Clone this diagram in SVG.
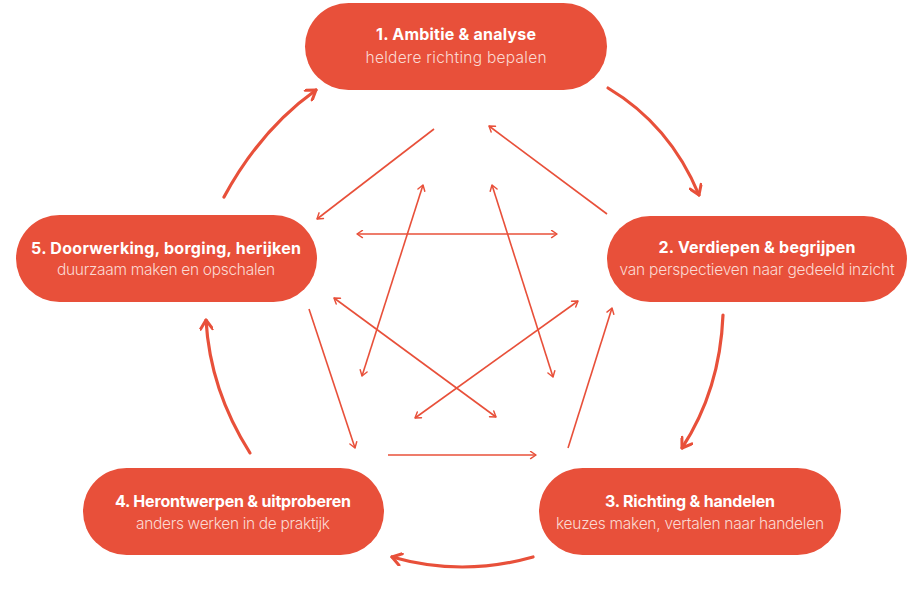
<svg xmlns="http://www.w3.org/2000/svg" width="920" height="591" viewBox="0 0 920 591">
<defs>
<style>
.node rect{fill:#E8503A;}
.t{font-family:Inter,"Noto Sans","Liberation Sans",sans-serif;font-size:16px;font-weight:700;fill:#ffffff;text-anchor:middle;}
.s{font-family:Inter,"Noto Sans","Liberation Sans",sans-serif;font-size:15.5px;font-weight:300;fill:#fbd9d2;text-anchor:middle;}
.thick{fill:none;stroke:#E8503A;stroke-width:3.2;stroke-linecap:round;}
.thin{fill:none;stroke:#E8503A;stroke-width:1.6;}
</style>
<marker id="big" viewBox="0 0 14 14" refX="12" refY="7" markerWidth="14" markerHeight="14" markerUnits="userSpaceOnUse" orient="auto-start-reverse">
<path d="M3,1 L12,7 L3,13" fill="none" stroke="#E8503A" stroke-width="3" stroke-linecap="round" stroke-linejoin="round"/>
</marker>
<marker id="sm" viewBox="0 0 10 10" refX="9" refY="5" markerWidth="9" markerHeight="9" markerUnits="userSpaceOnUse" orient="auto-start-reverse">
<path d="M3,1 L9,5 L3,9" fill="none" stroke="#E8503A" stroke-width="1.6" stroke-linecap="round" stroke-linejoin="round"/>
</marker>
</defs>
<rect width="920" height="591" fill="#ffffff"/>
<g id="connectors">
<path class="thick" d="M608,88 Q670,125 699,195" marker-end="url(#big)"/>
<path class="thick" d="M723,315 Q720,390 682,448" marker-end="url(#big)"/>
<path class="thick" d="M533,557 Q462,577 392,557" marker-end="url(#big)"/>
<path class="thick" d="M250,453 Q210,390 206,320" marker-end="url(#big)"/>
<path class="thick" d="M224,197 Q260,130 316,90" marker-end="url(#big)"/>
<line class="thin" x1="434" y1="129" x2="317" y2="219" marker-end="url(#sm)"/>
<line class="thin" x1="607" y1="214" x2="489" y2="126" marker-end="url(#sm)"/>
<line class="thin" x1="357" y1="234" x2="557" y2="234" marker-start="url(#sm)" marker-end="url(#sm)"/>
<line class="thin" x1="423" y1="185" x2="362" y2="376" marker-start="url(#sm)" marker-end="url(#sm)"/>
<line class="thin" x1="492" y1="185" x2="553" y2="377" marker-start="url(#sm)" marker-end="url(#sm)"/>
<line class="thin" x1="334" y1="298" x2="496" y2="417" marker-start="url(#sm)" marker-end="url(#sm)"/>
<line class="thin" x1="578" y1="301" x2="415" y2="418" marker-start="url(#sm)" marker-end="url(#sm)"/>
<line class="thin" x1="309" y1="309" x2="355" y2="448" marker-end="url(#sm)"/>
<line class="thin" x1="388" y1="455" x2="536" y2="455" marker-end="url(#sm)"/>
<line class="thin" x1="568" y1="448" x2="612" y2="308" marker-end="url(#sm)"/>
</g>
<g id="node1" class="node">
<rect x="305" y="3" width="302" height="87" rx="43.5"/>
<text class="t" x="456" y="40" textLength="160">1. Ambitie &amp; analyse</text>
<text class="s" x="456" y="63" textLength="181">heldere richting bepalen</text>
</g>
<g id="node2" class="node">
<rect x="607" y="216" width="300" height="86" rx="43"/>
<text class="t" x="757" y="253" textLength="197">2. Verdiepen &amp; begrijpen</text>
<text class="s" x="757" y="275" textLength="275">van perspectieven naar gedeeld inzicht</text>
</g>
<g id="node3" class="node">
<rect x="539" y="468" width="302" height="87" rx="43.5"/>
<text class="t" x="690" y="507" textLength="170">3. Richting &amp; handelen</text>
<text class="s" x="690" y="529" textLength="268">keuzes maken, vertalen naar handelen</text>
</g>
<g id="node4" class="node">
<rect x="83" y="468" width="301" height="87" rx="43.5"/>
<text class="t" x="233" y="507" textLength="236">4. Herontwerpen &amp; uitproberen</text>
<text class="s" x="233" y="529" textLength="194">anders werken in de praktijk</text>
</g>
<g id="node5" class="node">
<rect x="16" y="215" width="301" height="87" rx="43.5"/>
<text class="t" x="166" y="254" textLength="270">5. Doorwerking, borging, herijken</text>
<text class="s" x="166" y="275" textLength="218">duurzaam maken en opschalen</text>
</g>
</svg>
